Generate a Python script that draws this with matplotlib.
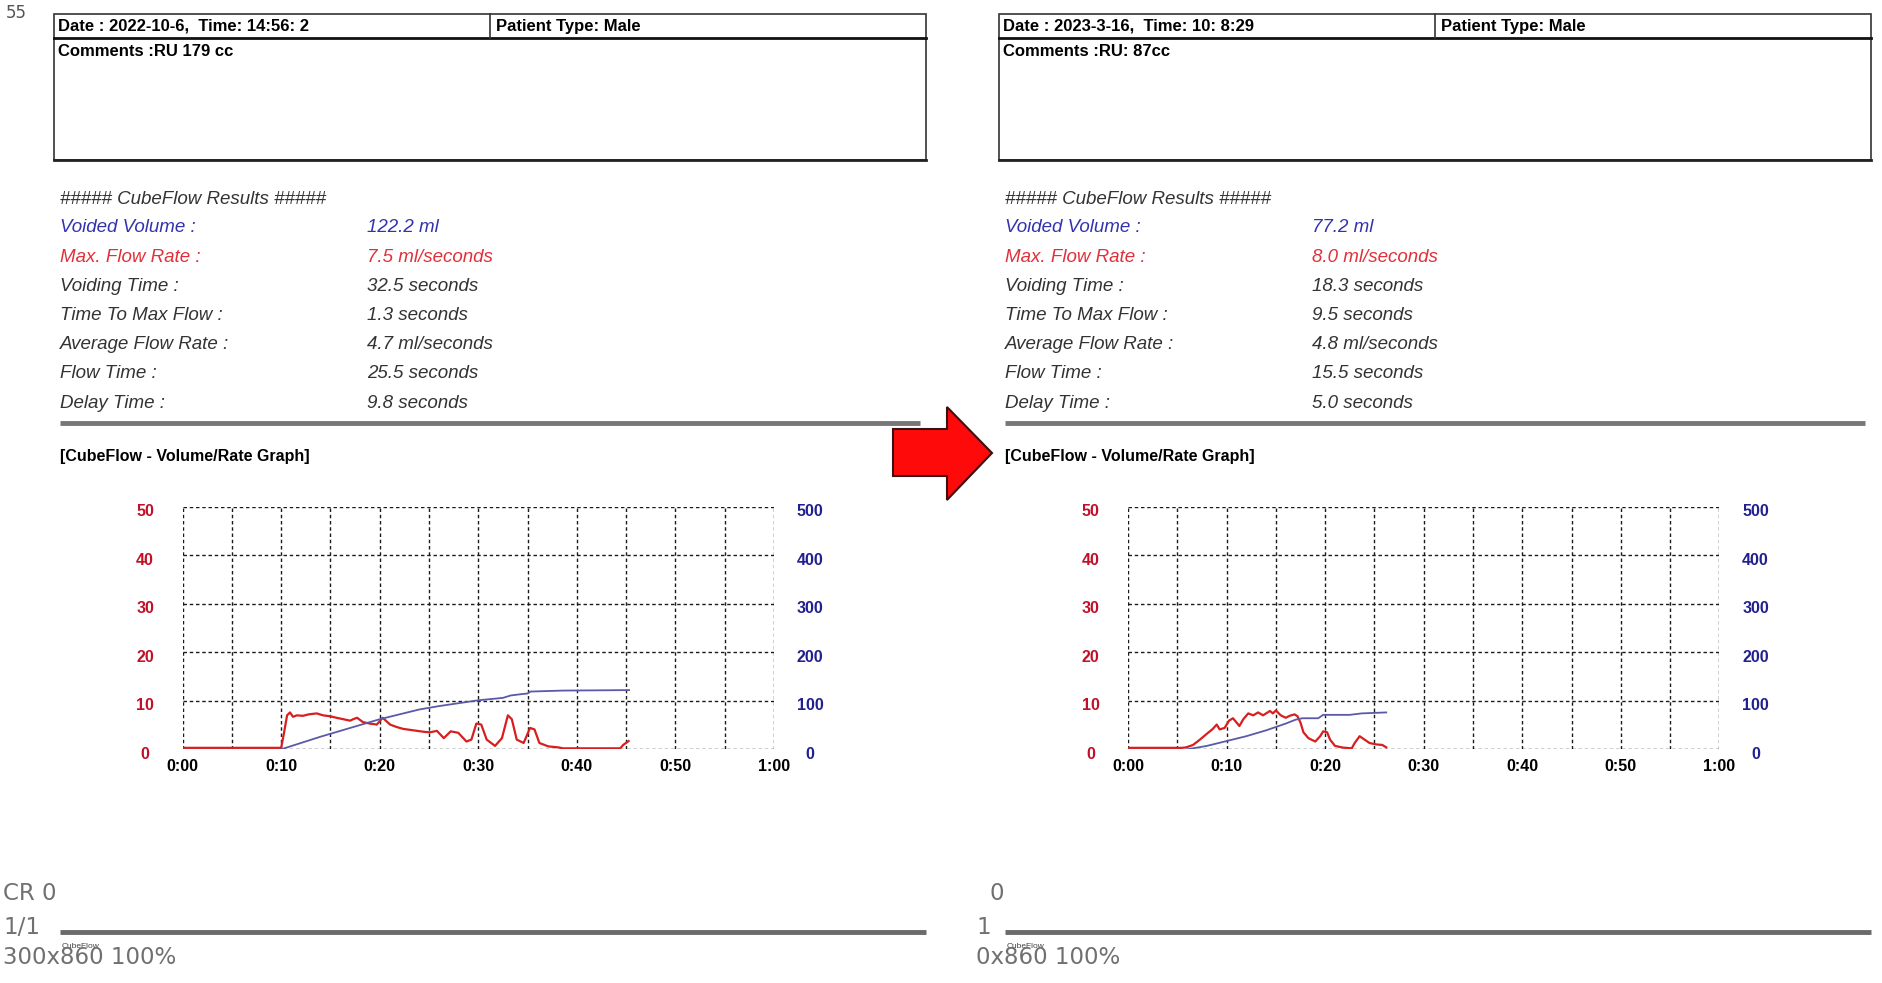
import matplotlib
matplotlib.use("Agg")
import matplotlib.pyplot as plt
from matplotlib.patches import Rectangle, Polygon
from matplotlib.transforms import ScaledTranslation

W, H = 1883, 983

# report texts
result_labels = ["Voided Volume :", "Max. Flow Rate :", "Voiding Time :", "Time To Max Flow :",
                 "Average Flow Rate :", "Flow Time :", "Delay Time :"]
left_header = ["Date : 2022-10-6,  Time: 14:56: 2", "Patient Type: Male", "Comments :RU 179 cc"]
right_header = ["Date : 2023-3-16,  Time: 10: 8:29", "Patient Type: Male", "Comments :RU: 87cc"]
left_results = ["122.2 ml", "7.5 ml/seconds", "32.5 seconds", "1.3 seconds",
                "4.7 ml/seconds", "25.5 seconds", "9.8 seconds"]
right_results = ["77.2 ml", "8.0 ml/seconds", "18.3 seconds", "9.5 seconds",
                 "4.8 ml/seconds", "15.5 seconds", "5.0 seconds"]
time_labels = ["0:00", "0:10", "0:20", "0:30", "0:40", "0:50", "1:00"]
flow_ticks = [0, 10, 20, 30, 40, 50]
vol_ticks = [0, 100, 200, 300, 400, 500]

# left graph: flow (ml/s) and volume (ml) against time (s)
left_t = [0, 10.0, 10.3, 10.6, 10.9, 11.2, 11.6, 12.2, 12.8, 13.6, 14.25, 15.0, 15.6, 16.3,
          17.0, 17.3, 17.7, 18.3, 19.0, 19.7, 20.3, 21.05, 21.7, 22.4, 23.1, 23.8, 24.5,
          25.1, 25.8, 26.5, 27.2, 27.97, 28.8, 29.3, 29.8, 30.3, 30.85, 31.7, 32.4, 33.0,
          33.4, 33.9, 34.6, 35.25, 35.7, 36.2, 37.1, 38.1, 38.6, 44.4, 44.7, 45.25]
left_flow = [0.3, 0.3, 3.5, 7.0, 7.6, 6.7, 7.0, 6.9, 7.2, 7.4, 7.0, 6.8, 6.5, 6.2,
             5.9, 6.2, 6.5, 5.6, 5.3, 5.1, 6.5, 5.1, 4.6, 4.2, 4.0, 3.8, 3.6,
             3.5, 3.8, 2.3, 3.7, 3.4, 1.6, 2.0, 5.3, 5.1, 2.0, 0.7, 2.3, 7.0,
             6.2, 2.0, 1.3, 4.4, 4.1, 1.3, 0.6, 0.4, 0.2, 0.2, 0.9, 1.7]
left_vt = [10.0, 12.0, 14.0, 16.0, 18.0, 20.0, 22.0, 24.0, 26.0, 28.0, 30.0, 31.5,
           32.5, 33.3, 34.5, 35.0, 35.3, 38.5, 45.3]
left_vol = [0, 13, 26, 38, 50, 62, 72, 82, 89, 95, 101, 104, 106, 111, 114, 115, 119, 121, 122]

# right graph
right_t = [0, 5.5, 5.9, 6.6, 7.3, 8.0, 8.6, 9.0, 9.3, 9.8, 10.25, 10.65, 11.3, 11.7, 12.2,
           12.7, 13.2, 13.7, 14.4, 14.7, 15.0, 15.5, 16.0, 16.4, 16.9, 17.2, 17.5, 17.8,
           18.3, 19.0, 19.5, 19.8, 20.2, 20.5, 21.0, 21.8, 22.7, 23.0, 23.5, 24.0, 24.5,
           25.2, 25.8, 26.2]
right_flow = [0.3, 0.3, 0.4, 0.9, 2.0, 3.2, 4.2, 5.1, 4.1, 4.4, 5.9, 6.4, 4.8, 6.2, 7.4,
              7.0, 7.6, 7.0, 7.9, 7.4, 8.0, 7.0, 6.5, 6.9, 7.2, 6.8, 5.5, 3.5,
              2.3, 1.6, 2.7, 3.7, 3.5, 2.0, 0.7, 0.35, 0.2, 1.3, 2.7, 2.0, 1.3,
              1.0, 0.9, 0.4]
right_vt = [6.0, 8.0, 10.0, 12.0, 14.0, 16.0, 17.0, 17.7, 19.3, 19.8, 22.5, 23.7, 26.2]
right_vol = [0, 7, 17, 27, 39, 53, 61, 64, 64, 71, 71, 74, 76]

RED_TXT = "#e0303a"
BLUE_TXT = "#3333b0"
GRAY_TXT = "#333333"
FONT = "Liberation Sans"

fig = plt.figure(figsize=(W / 100, H / 100), dpi=100)
bg = fig.add_axes([0, 0, 1, 1])
bg.set_xlim(0, W)
bg.set_ylim(H, 0)
bg.axis("off")


def draw_report(ox, header, results):
    # header box
    bg.add_patch(Rectangle((54 + ox, 14), 872, 146, fill=False, ec="#333333", lw=1.2))
    bg.plot([54 + ox, 926 + ox], [37.5, 37.5], color="#111111", lw=2)
    bg.plot([54 + ox, 926 + ox], [160, 160], color="#222222", lw=2)
    bg.plot([490 + ox, 490 + ox], [14, 37.5], color="#333333", lw=1.2)
    bg.text(58 + ox, 26, header[0], fontsize=12, fontweight="bold", family=FONT, va="center")
    bg.text(496 + ox, 26, header[1], fontsize=12, fontweight="bold", family=FONT, va="center")
    bg.text(58 + ox, 52, header[2], fontsize=12, fontweight="bold", family=FONT, va="center")

    bg.text(60 + ox, 199, "##### CubeFlow Results #####", fontsize=13.5, style="italic",
            family=FONT, color=GRAY_TXT, va="center")
    for i, (lab, val) in enumerate(zip(result_labels, results)):
        c = BLUE_TXT if i == 0 else RED_TXT if i == 1 else GRAY_TXT
        y = 228 + i * 29.2
        bg.text(60 + ox, y, lab, fontsize=13.5, style="italic", family=FONT, color=c, va="center")
        bg.text(367 + ox, y, val, fontsize=13.5, style="italic", family=FONT, color=c, va="center")
    bg.plot([60 + ox, 920 + ox], [423, 423], color="#777777", lw=3.5, solid_capstyle="butt")
    bg.text(60 + ox, 456, "[CubeFlow - Volume/Rate Graph]", fontsize=11.5, fontweight="bold",
            family=FONT, va="center")

    # footer rule
    bg.plot([60 + ox, 926 + ox], [932, 932], color="#6a6a6a", lw=3.5, solid_capstyle="butt")
    bg.text(62 + ox, 946, "CubeFlow", fontsize=6, family=FONT, color="#444444", va="center")


def draw_chart(x0, t, flow, vt, vol):
    ax = fig.add_axes([x0 / W, 1 - 749.3 / H, 591.4 / W, 242.6 / H])
    ax.patch.set_alpha(0)
    ax2 = ax.twinx()
    ax.plot(t, flow, color="#d81e1e", lw=1.6, zorder=3)
    ax2.plot(vt, vol, color="#5a5aa8", lw=1.3)
    ax.set_xlim(0, 60)
    ax.set_ylim(0, 50)
    ax2.set_ylim(0, 500)
    ax.set_xticks(range(0, 61, 10))
    ax.set_xticklabels(time_labels)
    ax.set_xticks(range(5, 60, 10), minor=True)
    ax.set_yticks(flow_ticks)
    ax2.set_yticks(vol_ticks)
    ax.grid(True, which="both", color="#1a1a1a", lw=1.0, ls=(0, (2.5, 2)))
    for s in list(ax.spines.values()) + list(ax2.spines.values()):
        s.set_visible(False)
    ax.tick_params(which="both", length=0)
    ax2.tick_params(length=0)
    ax.tick_params(axis="x", pad=7, labelsize=11.5)
    ax.tick_params(axis="y", pad=27, labelsize=11.5, labelcolor="#c0102a")
    ax2.tick_params(axis="y", pad=26, labelsize=11.5, labelcolor="#20208f")
    for lab in ax.get_xticklabels():
        lab.set_fontweight("bold")
        lab.set_family(FONT)
    shift = ScaledTranslation(0, -0.035, fig.dpi_scale_trans)
    for lab in ax.get_yticklabels() + ax2.get_yticklabels():
        lab.set_fontweight("bold")
        lab.set_family(FONT)
        lab.set_ha("center")
        lab.set_va("center_baseline")
        lab.set_transform(lab.get_transform() + shift)


draw_report(0, left_header, left_results)
draw_report(945, right_header, right_results)
draw_chart(182.6, left_t, left_flow, left_vt, left_vol)
draw_chart(1128, right_t, right_flow, right_vt, right_vol)

# red arrow between the two reports
bg.add_patch(Polygon([(893, 429), (947, 429), (947, 407), (992, 453), (947, 500), (947, 476),
                      (893, 476)], closed=True, fc="#ff0a0a", ec="#3a1010", lw=1.5))

# cut-off screen fragments
bg.text(6, 13, "55", fontsize=12, family="DejaVu Sans", color="#555555", va="center")
side = dict(fontsize=16.5, family="DejaVu Sans", color="#707070", va="center")
bg.text(3, 893, "CR 0", **side)
bg.text(3, 927, "1/1", **side)
bg.text(3, 958, "300x860 100%", **side)
bg.text(990, 893, "0", **side)
bg.text(976, 927, "1", **side)
bg.text(976, 958, "0x860 100%", **side)

fig.savefig("out.png", dpi=100)
